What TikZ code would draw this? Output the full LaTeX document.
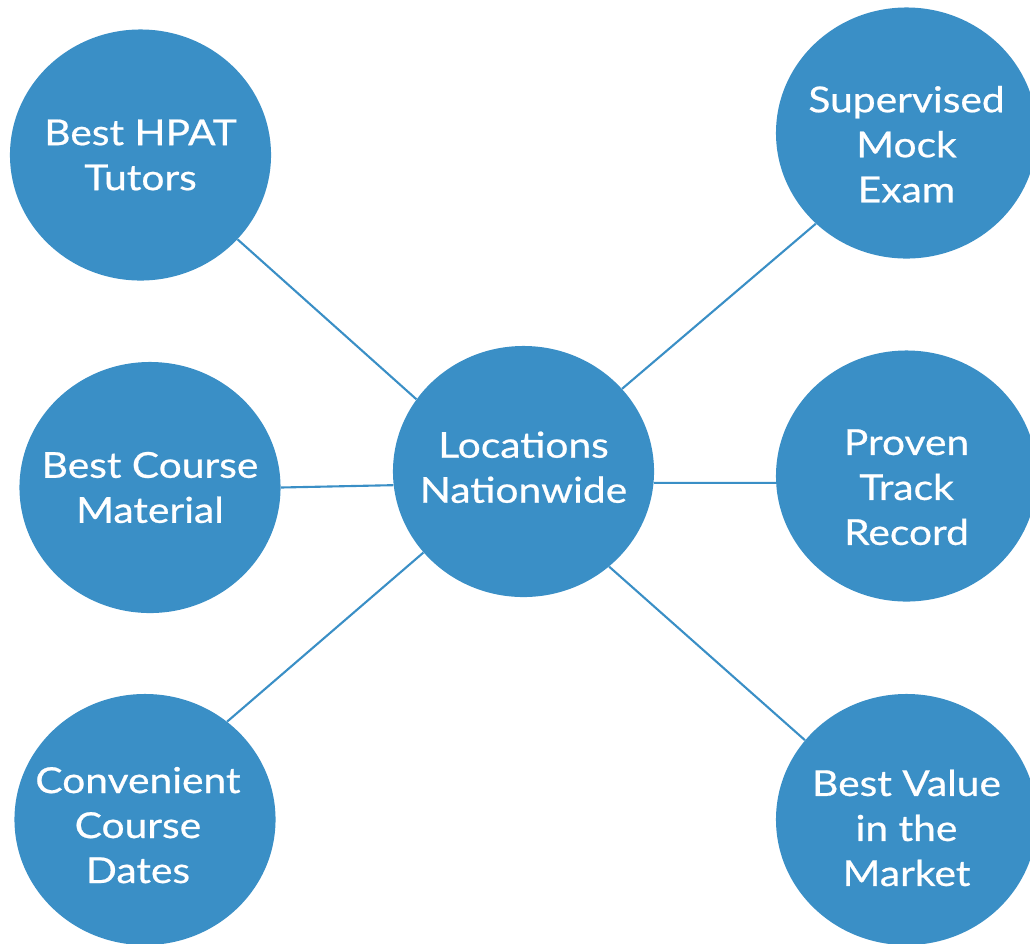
\documentclass[tikz,border=0pt]{standalone}
\usepackage{fontspec}
\setmainfont{Lato}[FakeStretch=1.14,FakeBold=0.6]
\usepackage{tikz}
\usetikzlibrary{shapes.geometric}

\definecolor{bubble}{HTML}{3A8FC6}

\tikzset{
  bubble/.style={ellipse,fill=bubble,draw=none,inner sep=0pt,
    minimum width=6.525cm,minimum height=6.275cm},
  words/.style={text=white,align=center,inner sep=0pt,
    font=\fontsize{25.4}{32}\selectfont},
  spoke/.style={draw=bubble,line width=1.5pt}
}

\begin{document}
\begin{tikzpicture}[x=0.025cm,y=-0.025cm]

\useasboundingbox (0,0) rectangle (1030,943);

\node[bubble,label={[words,yshift=3]center:Locations\\Nationwide}] (C) at (523.5,471.5) {};

\node[bubble,label={[words]center:Best HPAT\\Tutors}]          (TL) at (140.5,155)   {};
\node[bubble,label={[words]center:Best Course\\Material}]      (ML) at (150,487.5)   {};
\node[bubble,label={[words,xshift=-5,yshift=-4]center:Convenient\\Course\\Dates}] (BL) at (145,819.5) {};

\node[bubble,label={[words,yshift=-8]center:Supervised\\Mock\\Exam}]     (TR) at (906.5,133)   {};
\node[bubble,label={[words,yshift=-8]center:Proven\\Track\\Record}]      (MR) at (906.5,476)   {};
\node[bubble,label={[words,yshift=-6]center:Best Value\\in the\\Market}] (BR) at (906.5,819.5) {};

\draw[spoke] (TL.-41.7) -- (C.146.2);
\draw[spoke] (ML.0) -- (C.186.8);
\draw[spoke] (BL.50.8) -- (C.219.9);
\draw[spoke] (TR.225.7) -- (C.40);
\draw[spoke] (MR.183) -- (C.-5);
\draw[spoke] (BR.142.7) -- (C.-48.8);

\end{tikzpicture}
\end{document}
